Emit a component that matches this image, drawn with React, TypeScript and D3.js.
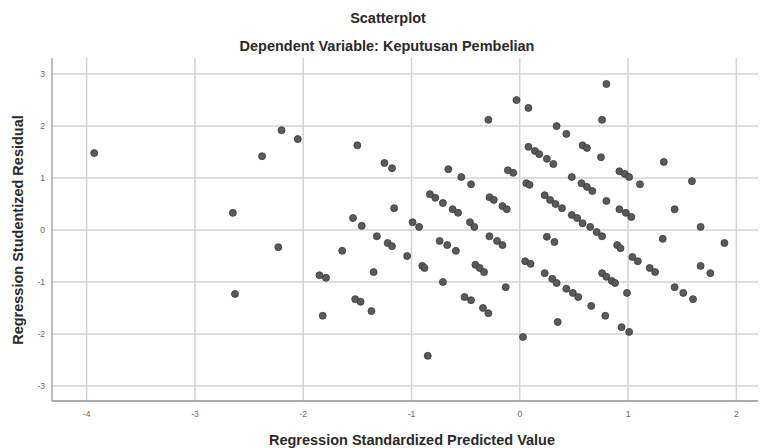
import React from "react";
import * as d3 from "d3";

// Regression Standardized Predicted Value (x) and Studentized Residual (y)
const predicted = [
  -3.93, -2.38, -2.2, -2.05, -1.5, -2.65, -2.23, -2.63, -1.64, -1.85, -1.79, -1.82, -1.52, -1.47,
  -1.37, -1.35, -1.54, -1.46, -1.32, -1.22, -1.18, -1.25, -1.18, -1.16, -1.04, -0.99, -0.93, -0.9,
  -0.88, -0.85, -0.83, -0.78, -0.71, -0.62, -0.57, -0.66, -0.54, -0.45, -0.74, -0.67, -0.59, -0.71,
  -0.51, -0.45, -0.34, -0.29, -0.46, -0.42, -0.41, -0.37, -0.33, -0.28, -0.21, -0.16, -0.28, -0.24,
  -0.16, -0.12, -0.11, -0.06, -0.29, -0.03, 0.08, -0.13, 0.03, 0.05, 0.1, 0.06, 0.09, 0.08, 0.14,
  0.18, 0.25, 0.31, 0.34, 0.43, 0.58, 0.62, 0.75, 0.8, 0.76, 0.48, 0.57, 0.62, 0.67, 0.8, 0.23, 0.28,
  0.33, 0.39, 0.48, 0.53, 0.58, 0.65, 0.71, 0.76, 0.92, 0.97, 1.01, 1.11, 1.33, 1.59, 0.92, 0.98,
  1.03, 1.43, 1.67, 0.25, 0.32, 0.9, 0.93, 1.32, 1.89, 1.04, 1.09, 1.2, 1.25, 1.67, 1.76, 0.23, 0.3,
  0.34, 0.43, 0.49, 0.54, 0.66, 0.79, 0.76, 0.8, 0.85, 0.88, 0.99, 1.43, 1.51, 1.6, 0.35, 0.94, 1.01,
];
const residual = [
  1.48, 1.42, 1.92, 1.75, 1.63, 0.33, -0.33, -1.23, -0.4, -0.87, -0.92, -1.65, -1.33, -1.38,
  -1.56, -0.81, 0.23, 0.08, -0.12, -0.25, -0.31, 1.29, 1.19, 0.42, -0.5, 0.15, 0.06, -0.69,
  -0.73, -2.42, 0.69, 0.62, 0.52, 0.4, 0.33, 1.17, 1.02, 0.88, -0.21, -0.29, -0.4, -1.0,
  -1.29, -1.35, -1.5, -1.6, 0.15, 0.06, -0.67, -0.73, -0.81, -0.12, -0.21, -0.29, 0.63, 0.58,
  0.46, 0.4, 1.15, 1.1, 2.12, 2.5, 2.35, -1.1, -2.06, -0.6, -0.65, 0.9, 0.87, 1.6, 1.52,
  1.46, 1.37, 1.27, 2.0, 1.85, 1.63, 1.58, 1.4, 2.81, 2.12, 1.02, 0.9, 0.83, 0.75, 0.56, 0.67, 0.58,
  0.5, 0.42, 0.29, 0.23, 0.13, 0.06, -0.04, -0.12, 1.13, 1.08, 1.02, 0.88, 1.31, 0.94, 0.4, 0.33,
  0.25, 0.4, 0.06, -0.13, -0.23, -0.29, -0.35, -0.17, -0.25, -0.52, -0.6, -0.73, -0.81, -0.69, -0.83, -0.83, -0.94,
  -1.02, -1.13, -1.21, -1.29, -1.46, -1.65, -0.83, -0.9, -0.98, -1.02, -1.21, -1.1, -1.21, -1.33, -1.77, -1.87, -1.96,
];
const xTicks = [-4, -3, -2, -1, 0, 1, 2];
const yTicks = [-3, -2, -1, 0, 1, 2, 3];

const W = 766;
const H = 448;
const margin = { left: 52, right: 8, top: 58, bottom: 47 };
const FONT = "'Liberation Sans', Arial, sans-serif";

const App = () => {
  const x = d3
    .scaleLinear()
    .domain([-4.32, 2.2])
    .range([margin.left, W - margin.right]);
  const y = d3
    .scaleLinear()
    .domain([-3.29, 3.31])
    .range([H - margin.bottom, margin.top]);

  const points = d3.zip(predicted, residual);

  return (
    <svg
      width={W}
      height={H}
      style={{ position: "absolute", left: 0, top: 0, background: "#fff" }}
      fontFamily={FONT}
    >
      <defs>
        <filter id="soft" x="-50%" y="-50%" width="200%" height="200%">
          <feGaussianBlur stdDeviation="0.45" />
        </filter>
      </defs>

      {/* grid */}
      <g stroke="#d3d3d3" strokeWidth={1.5}>
        {xTicks.map((t) => (
          <line key={"gx" + t} x1={x(t)} x2={x(t)} y1={margin.top} y2={H - margin.bottom} />
        ))}
        {yTicks.map((t) => (
          <line key={"gy" + t} x1={margin.left} x2={W - margin.right} y1={y(t)} y2={y(t)} />
        ))}
      </g>

      {/* axes */}
      <line x1={margin.left} x2={margin.left} y1={margin.top} y2={H - margin.bottom} stroke="#a8a8a8" strokeWidth={1.5} />
      <line x1={margin.left} x2={W - margin.right} y1={H - margin.bottom} y2={H - margin.bottom} stroke="#909090" strokeWidth={1.5} />

      {/* tick labels */}
      <g fontSize={8.5} fill="#666">
        {yTicks.map((t) => (
          <text key={"ty" + t} x={45} y={y(t)} textAnchor="end" dominantBaseline="central">
            {t}
          </text>
        ))}
        {xTicks.map((t) => (
          <text key={"tx" + t} x={x(t)} y={414} textAnchor="middle" dominantBaseline="central">
            {t}
          </text>
        ))}
      </g>

      {/* points */}
      <g filter="url(#soft)">
        {points.map(([v, r], i) => (
          <circle key={i} cx={x(v)} cy={y(r)} r={3.5} fill="#5a5a5a" stroke="#3a3a3a" strokeWidth={0.8} />
        ))}
      </g>

      {/* titles */}
      <g fontWeight="bold" fill="#2a2a2a" fontSize={14.5}>
        <text x={388} y={23} textAnchor="middle">Scatterplot</text>
        <text x={387} y={51} textAnchor="middle">Dependent Variable: Keputusan Pembelian</text>
        <text x={412} y={445} textAnchor="middle">Regression Standardized Predicted Value</text>
        <text transform={`translate(23, ${y(0)}) rotate(-90)`} textAnchor="middle">
          Regression Studentized Residual
        </text>
      </g>
    </svg>
  );
};

export default App;
